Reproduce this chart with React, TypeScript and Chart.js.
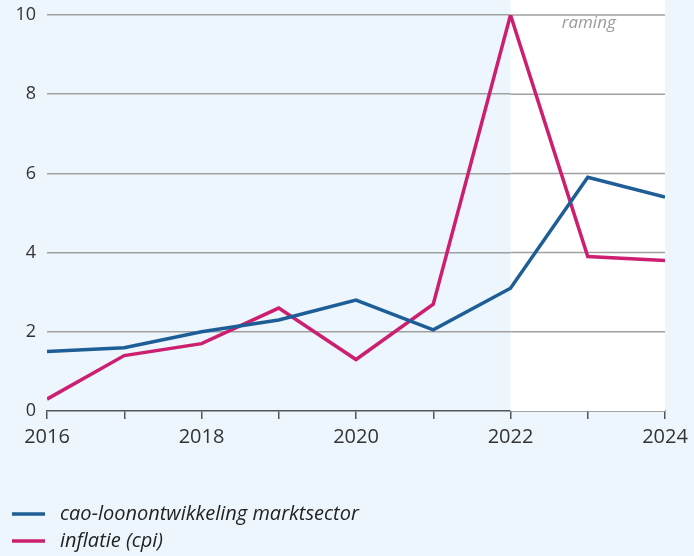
import React, { useEffect, useRef } from "react";
import { Chart, registerables } from "chart.js";

Chart.register(...registerables);

const years = [2016, 2017, 2018, 2019, 2020, 2021, 2022, 2023, 2024];
const caoLoon = [1.5, 1.6, 2.0, 2.3, 2.8, 2.05, 3.1, 5.9, 5.4];
const inflatie = [0.3, 1.4, 1.7, 2.6, 1.3, 2.7, 10.0, 3.9, 3.8];
const yTicks = [0, 2, 4, 6, 8, 10];
const ramingStart = 2022;
const ramingLabel = "raming";
const seriesLabels = ["cao-loonontwikkeling marktsector", "inflatie (cpi)"];
const seriesColors = ["#1E5E97", "#CC1F70"];

const BG = "#EDF6FC";
const FONT = "'Open Sans', 'Noto Sans', sans-serif";

const ramingPlugin = {
  id: "raming",
  beforeDatasetsDraw(chart: any) {
    const { ctx, chartArea, scales } = chart;
    const x0 = scales.x.getPixelForValue(ramingStart);
    ctx.save();
    ctx.fillStyle = "#FFFFFF";
    ctx.fillRect(x0, 0, chartArea.right - x0, chartArea.bottom);
    ctx.strokeStyle = "#A0A0A0";
    ctx.lineWidth = 1.5;
    for (const v of yTicks) {
      if (v === 0) continue;
      const y = scales.y.getPixelForValue(v);
      ctx.beginPath();
      ctx.moveTo(x0, y);
      ctx.lineTo(chartArea.right, y);
      ctx.stroke();
    }
    ctx.fillStyle = "#9A9A9A";
    ctx.font = `italic 17px ${FONT}`;
    ctx.textAlign = "center";
    ctx.textBaseline = "middle";
    ctx.fillText(ramingLabel, (x0 + chartArea.right) / 2 + 1, 23);
    ctx.restore();
  },
};

const legendPlugin = {
  id: "customLegend",
  afterDraw(chart: any) {
    const { ctx } = chart;
    ctx.save();
    seriesLabels.forEach((lab, i) => {
      const y = 514 + i * 27;
      ctx.strokeStyle = seriesColors[i];
      ctx.lineWidth = 3.5;
      ctx.beginPath();
      ctx.moveTo(12, y);
      ctx.lineTo(45, y);
      ctx.stroke();
      ctx.fillStyle = "#222222";
      ctx.font = `italic 20px ${FONT}`;
      ctx.textAlign = "left";
      ctx.textBaseline = "middle";
      ctx.fillText(lab, 60, y);
    });
    ctx.restore();
  },
};

export default function App() {
  const ref = useRef<HTMLCanvasElement | null>(null);
  useEffect(() => {
    if (!ref.current) return;
    const chart = new Chart(ref.current, {
      type: "line",
      data: {
        datasets: [
          {
            label: seriesLabels[0],
            data: years.map((x, i) => ({ x, y: caoLoon[i] })),
            borderColor: seriesColors[0],
            borderWidth: 3.5,
            pointRadius: 0,
            tension: 0,
          },
          {
            label: seriesLabels[1],
            data: years.map((x, i) => ({ x, y: inflatie[i] })),
            borderColor: seriesColors[1],
            borderWidth: 3.5,
            pointRadius: 0,
            tension: 0,
          },
        ],
      },
      options: {
        animation: false,
        responsive: false,
        maintainAspectRatio: false,
        layout: { padding: { top: 15, right: 29, left: 0, bottom: 0 } },
        plugins: { legend: { display: false }, tooltip: { enabled: false } },
        scales: {
          x: {
            type: "linear",
            min: years[0],
            max: years[years.length - 1],
            afterFit(scale: any) {
              scale.height = 145;
              scale.paddingLeft = 0;
              scale.paddingRight = 0;
            },
            afterBuildTicks(scale: any) {
              scale.ticks = years.map((v) => ({ value: v }));
            },
            ticks: {
              autoSkip: false,
              maxRotation: 0,
              color: "#333333",
              padding: 6,
              font: { family: FONT, size: 20 },
              callback: (v: any) => (Number(v) % 2 === 0 ? String(v) : ""),
            },
            grid: {
              drawOnChartArea: false,
              drawTicks: true,
              tickLength: 8,
              color: "#555555",
              lineWidth: 1.5,
            },
            border: { display: true, color: "#555555", width: 1.5 },
          },
          y: {
            min: 0,
            max: 10,
            afterFit(scale: any) {
              scale.width = 47;
              scale.paddingTop = 0;
              scale.paddingBottom = 0;
            },
            afterBuildTicks(scale: any) {
              scale.ticks = yTicks.map((v) => ({ value: v }));
            },
            ticks: {
              color: "#333333",
              padding: 11,
              font: { family: FONT, size: 18 },
            },
            grid: {
              drawTicks: false,
              color: (c: any) => (c.tick && c.tick.value === 0 ? "rgba(0,0,0,0)" : "#A0A0A0"),
              lineWidth: 1.5,
            },
            border: { display: false },
          },
        },
      },
      plugins: [ramingPlugin, legendPlugin],
    } as any);
    return () => chart.destroy();
  }, []);
  return (
    <div
      style={{
        position: "fixed",
        left: 0,
        top: 0,
        width: 694,
        height: 556,
        background: BG,
      }}
    >
      <canvas ref={ref} width={694} height={556} style={{ display: "block" }} />
    </div>
  );
}
